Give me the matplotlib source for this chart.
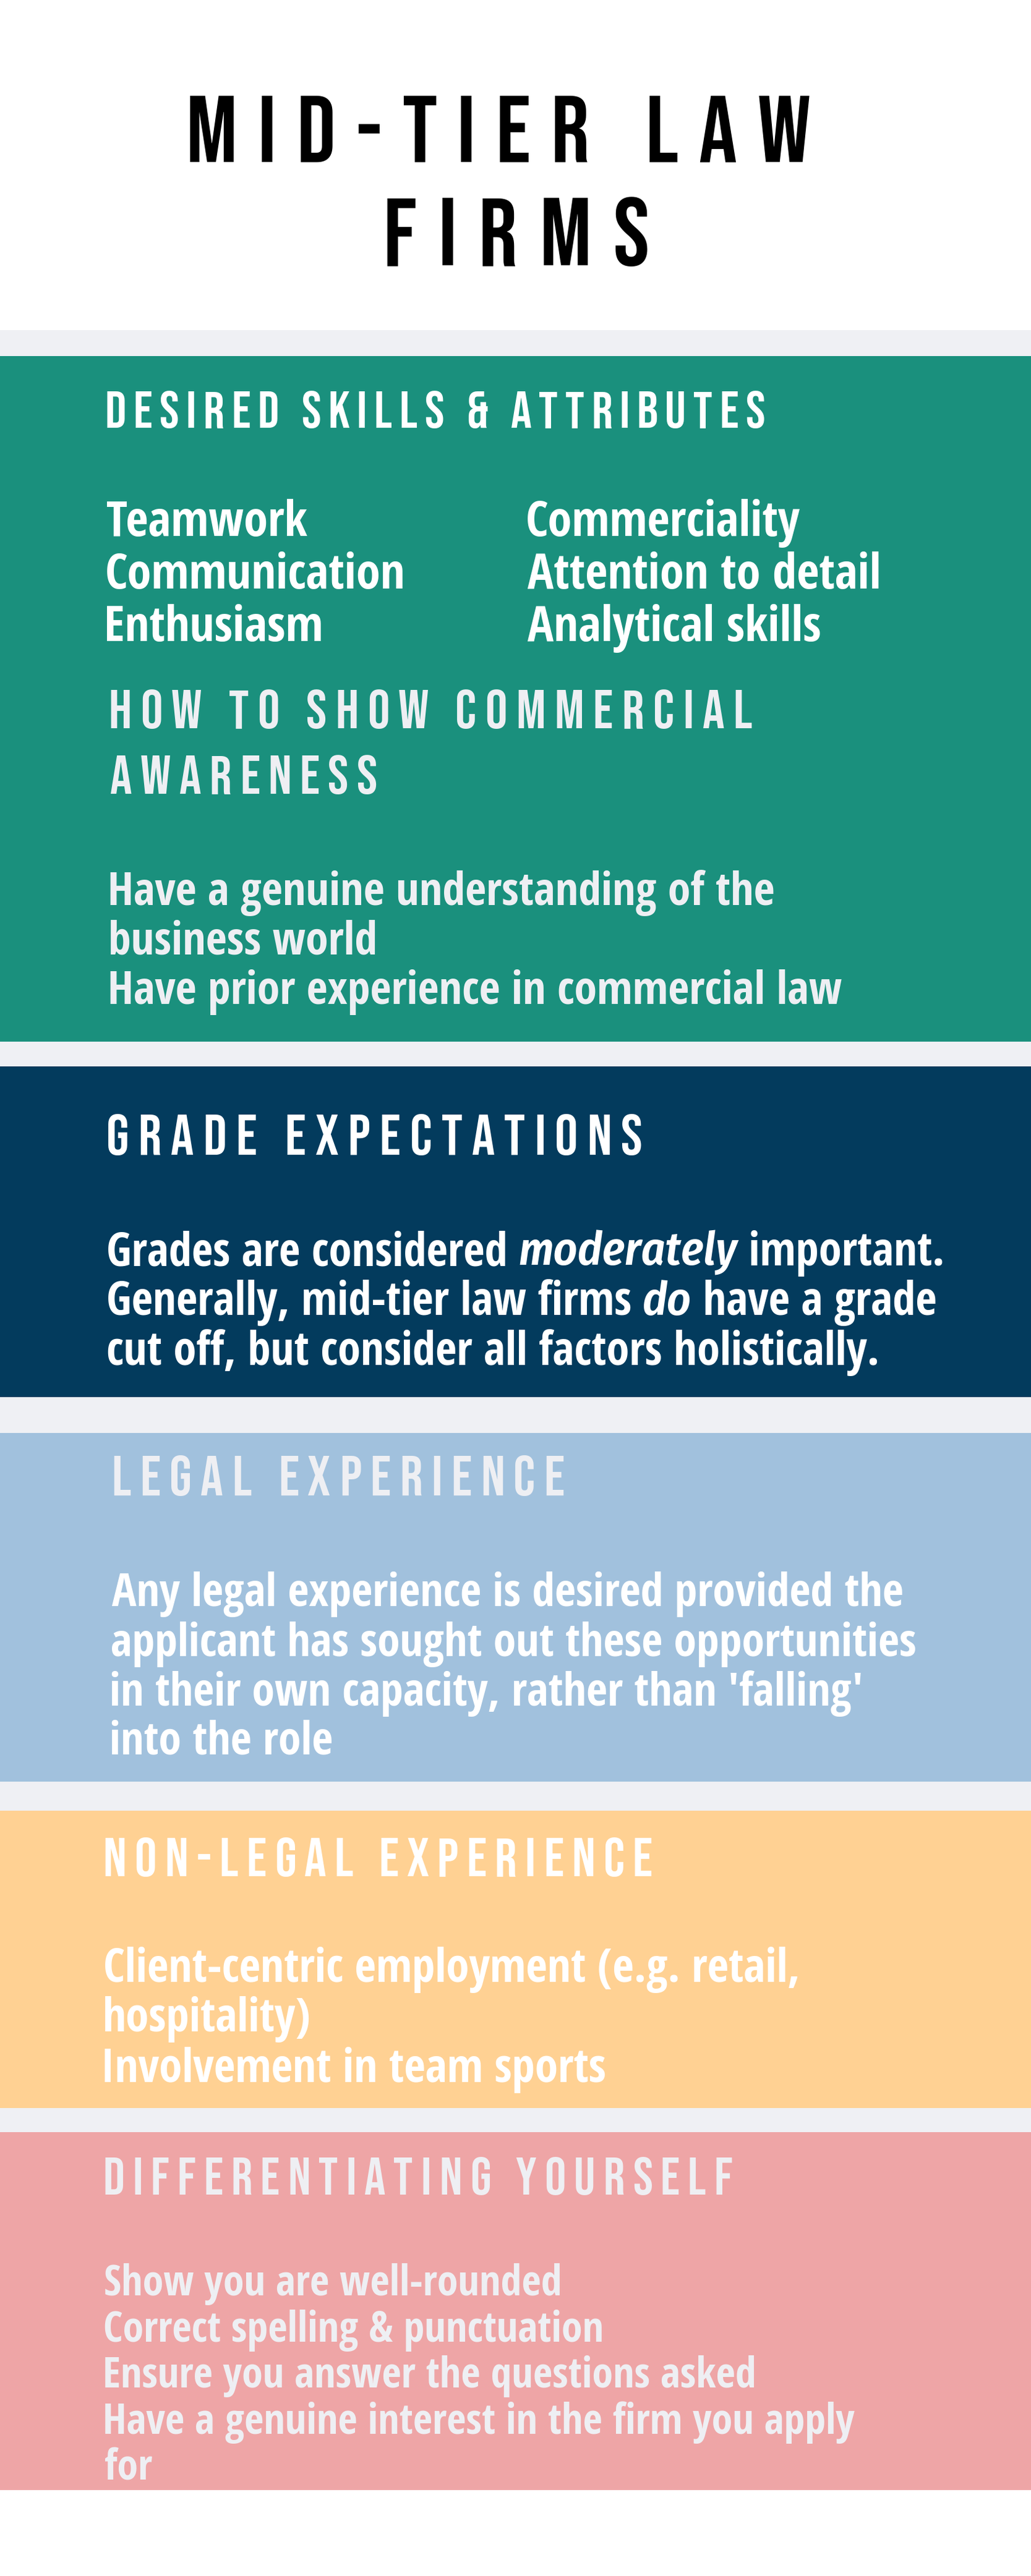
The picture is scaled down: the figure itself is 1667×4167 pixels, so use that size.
import matplotlib
matplotlib.use("Agg")
import matplotlib.pyplot as plt
from matplotlib import font_manager as fm
from matplotlib.font_manager import FontProperties
from matplotlib.ft2font import FT2Font
from matplotlib.textpath import TextPath

# ---------------- content ----------------
TITLE_LINES = ["MID-TIER LAW", "FIRMS"]
HEAD_SKILLS = "DESIRED SKILLS & ATTRIBUTES"
SKILLS_LEFT = ["Teamwork", "Communication", "Enthusiasm"]
SKILLS_RIGHT = ["Commerciality", "Attention to detail", "Analytical skills"]
HEAD_COMMERCIAL = ["HOW TO SHOW COMMERCIAL", "AWARENESS"]
COMMERCIAL_LINES = ["Have a genuine understanding of the", "business world",
                    "Have prior experience in commercial law"]
HEAD_GRADES = "GRADE EXPECTATIONS"
GRADE_LINES = [
    [("Grades are considered ", "r"), ("moderately", "i"), (" important.", "r")],
    [("Generally, mid-tier law firms ", "r"), ("do", "i"), (" have a grade", "r")],
    [("cut off, but consider all factors holistically.", "r")],
]
HEAD_LEGAL = "LEGAL EXPERIENCE"
LEGAL_LINES = ["Any legal experience is desired provided the",
               "applicant has sought out these opportunities",
               "in their own capacity, rather than 'falling'",
               "into the role"]
HEAD_NONLEGAL = "NON-LEGAL EXPERIENCE"
NONLEGAL_LINES = ["Client-centric employment (e.g. retail,", "hospitality)",
                  "Involvement in team sports"]
HEAD_DIFF = "DIFFERENTIATING YOURSELF"
DIFF_LINES = ["Show you are well-rounded", "Correct spelling & punctuation",
              "Ensure you answer the questions asked",
              "Have a genuine interest in the firm you apply", "for"]

# ---------------- style / layout ----------------
W, H, DPI = 1667, 4167, 100
GRAY = "#EFF0F4"
GREEN = "#1A907D"
NAVY = "#033B5D"
LBLUE = "#A1C1DD"
ORANGE = "#FFD193"
PINK = "#EEA5A6"
WHITE = "#FFFFFF"
OFFWHITE = "#EEEFF3"


def find_font(*names):
    for n in names:
        for f in fm.fontManager.ttflist:
            if f.fname.split("/")[-1] == n:
                return f.fname
    return fm.findfont("DejaVu Sans")


HEAD_FONT = find_font("BebasNeue-Regular.ttf", "Oswald[wght].ttf")
BODY_FONT = find_font("OpenSans-CondBold.ttf", "OpenSans-Bold.ttf")
ITAL_FONT = find_font("FiraSansCondensed-SemiBoldItalic.ttf", "OpenSans-BoldItalic.ttf")

fig = plt.figure(figsize=(W / DPI, H / DPI), dpi=DPI)
fig.patch.set_facecolor("white")
ax = fig.add_axes([0, 0, 1, 1])
ax.set_xlim(0, W)
ax.set_ylim(H, 0)
ax.axis("off")

# bands
ax.axhspan(534, 4028, color=GRAY, lw=0)
for (y0, y1, c) in [(576, 1685, GREEN), (1725, 2260, NAVY), (2318, 2882, LBLUE),
                    (2929, 3410, ORANGE), (3449, 4028, PINK)]:
    ax.axhspan(y0, y1, color=c, lw=0)


def glyph_metrics(path, size_pt, s):
    f = FT2Font(path)
    f.set_size(size_pt, DPI)
    out = []
    for ch in s:
        g = f.load_char(ord(ch))
        out.append((g.linearHoriAdvance / 65536.0, g.horiBearingX / 64.0, g.width / 64.0))
    return out


def cap_ratio(path):
    tp = TextPath((0, 0), "H", size=100, prop=FontProperties(fname=path))
    return tp.get_extents().height / 100.0


def ink_extent(path, s):
    tp = TextPath((0, 0), s, size=100, prop=FontProperties(fname=path))
    e = tp.get_extents()
    return e.x0 / 100.0, e.width / 100.0   # in units of pt-size


def px_per_pt():
    return DPI / 72.0


def spaced_heading(text, left, right, top, base, color, path=HEAD_FONT):
    cap_px = base - top
    size = cap_px / (cap_ratio(path) * px_per_pt())
    m = glyph_metrics(path, size, text)
    n = len(text)
    natural = sum(a for a, _, _ in m[:-1]) + m[-1][1] + m[-1][2] - m[0][1]
    track = (right - left - natural) / max(n - 1, 1)
    x = left - m[0][1]
    fp = FontProperties(fname=path, size=size)
    for ch, (a, _, _) in zip(text, m):
        if ch != " ":
            ax.text(x, base, ch, fontproperties=fp, color=color, ha="left", va="baseline")
        x += a + track


def body_size(path, ref_line, ink_w):
    _, w = ink_extent(path, ref_line)
    return ink_w / (w * px_per_pt())


def body_lines(lines, left, bases, size, color, path=BODY_FONT):
    fp = FontProperties(fname=path, size=size)
    for line, b in zip(lines, bases):
        x0, _ = ink_extent(path, line)
        ax.text(left - x0 * size * px_per_pt(), b, line, fontproperties=fp,
                color=color, ha="left", va="baseline")


# ---------------- title ----------------
spaced_heading(TITLE_LINES[0], 307, 1308, 154, 262, "#000000")
spaced_heading(TITLE_LINES[1], 626, 1046, 320, 429, "#000000")

# ---------------- desired skills ----------------
spaced_heading(HEAD_SKILLS, 173, 1235, 633, 692, WHITE)
s_sk = body_size(BODY_FONT, SKILLS_RIGHT[1], 1420 - 853)
body_lines(SKILLS_LEFT, 173, [867, 952, 1037], s_sk, WHITE)
body_lines(SKILLS_RIGHT, 853, [867, 952, 1037], s_sk, WHITE)

# ---------------- commercial awareness ----------------
spaced_heading(HEAD_COMMERCIAL[0], 179, 1215, 1116, 1178, OFFWHITE)
spaced_heading(HEAD_COMMERCIAL[1], 179, 608, 1222, 1284, OFFWHITE)
s_cm = body_size(BODY_FONT, COMMERCIAL_LINES[2], 1362 - 179)
body_lines(COMMERCIAL_LINES, 179, [1464, 1543, 1624], s_cm, OFFWHITE)

# ---------------- grades ----------------
spaced_heading(HEAD_GRADES, 175, 1037, 1803, 1868, WHITE)
s_gr = body_size(BODY_FONT, GRADE_LINES[2][0][0], 1418 - 175)
for segs, b in zip(GRADE_LINES, [2047, 2127, 2208]):
    x0, _ = ink_extent(BODY_FONT, segs[0][0])
    x = 175 - x0 * s_gr * px_per_pt()
    for txt, sty in segs:
        p = BODY_FONT if sty == "r" else ITAL_FONT
        ax.text(x, b, txt, fontproperties=FontProperties(fname=p, size=s_gr),
                color=WHITE, ha="left", va="baseline")
        x += sum(a for a, _, _ in glyph_metrics(p, s_gr, txt))

# ---------------- legal ----------------
spaced_heading(HEAD_LEGAL, 184, 911, 2355, 2419, OFFWHITE)
s_lg = body_size(BODY_FONT, LEGAL_LINES[1], 1480 - 181)
body_lines(LEGAL_LINES, 181, [2598, 2679, 2759, 2837], s_lg, WHITE)

# ---------------- non-legal ----------------
spaced_heading(HEAD_NONLEGAL, 170, 1053, 2973, 3035, WHITE)
s_nl = body_size(BODY_FONT, NONLEGAL_LINES[0], 1289 - 170)
body_lines(NONLEGAL_LINES, 170, [3206, 3286, 3368], s_nl, WHITE)

# ---------------- differentiating ----------------
spaced_heading(HEAD_DIFF, 170, 1183, 3490, 3550, OFFWHITE)
s_df = body_size(BODY_FONT, DIFF_LINES[3], 1382 - 170)
body_lines(DIFF_LINES, 170, [3713, 3788, 3862, 3937, 4012], s_df, OFFWHITE)

fig.savefig("out.png", dpi=DPI, facecolor="white")
